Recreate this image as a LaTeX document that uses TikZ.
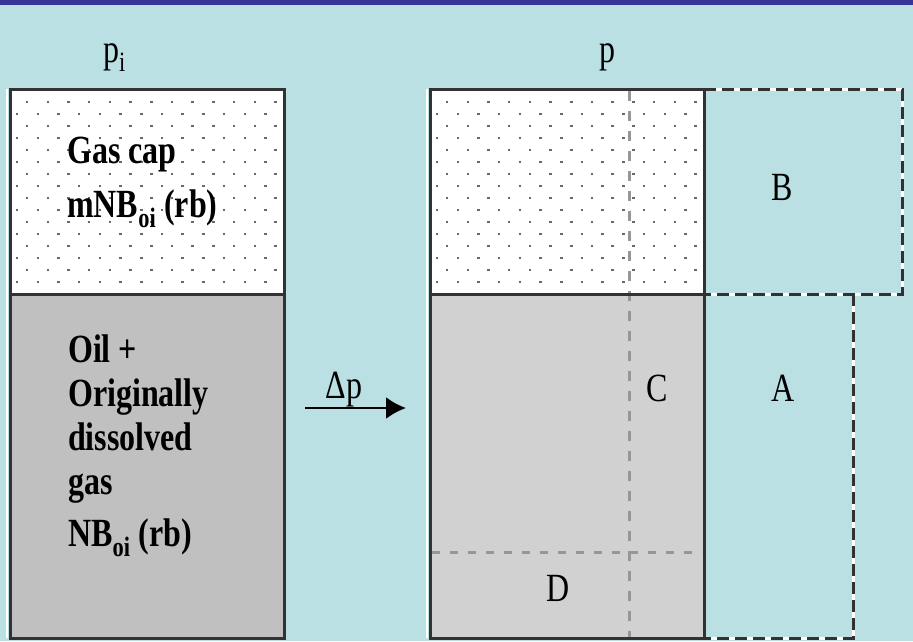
\documentclass[tikz,border=0pt]{standalone}
\usepackage{fontspec}
\setmainfont{Liberation Serif}
\newfontfamily\figfont[FakeStretch=0.8]{Liberation Serif}
\usetikzlibrary{arrows.meta,positioning}
\definecolor{bgblue}{RGB}{186,224,227}
\definecolor{barblue}{RGB}{54,54,152}
\definecolor{oilleft}{RGB}{192,192,192}
\definecolor{oilright}{RGB}{209,209,209}
\definecolor{edgegray}{RGB}{50,50,50}
\definecolor{dotgray}{RGB}{105,105,105}
\definecolor{guidegray}{RGB}{150,150,150}

\begin{document}
\begin{tikzpicture}[
  x=1pt, y=-1pt,
  zone/.style={draw=edgegray, line width=3pt, inner sep=0pt, outer sep=0pt, anchor=north west},
  lbl/.style={font=\figfont\fontsize{40}{45}\selectfont, inner sep=0pt},
  boxtext/.style={font=\figfont\bfseries\fontsize{40}{44}\selectfont, align=left, inner sep=0pt, anchor=base west},
  bound/.style={edgegray, line width=3pt, dash pattern=on 12pt off 6pt},
  guide/.style={guidegray, line width=3pt, dash pattern=on 10pt off 10pt},
  droparrow/.style={-{Latex[length=20pt,width=22pt]}, line width=2.5pt, black}
]
\useasboundingbox (0,0) rectangle (913,641);
\fill[bgblue] (0,0) rectangle (913,641);
\fill[barblue] (0,0) rectangle (913,5);

% initial state
\node[zone, fill=white, minimum width=274pt, minimum height=205pt] (capL) at (10,89) {};
\node[zone, fill=oilleft, minimum width=274pt, minimum height=344pt] (oilL) at (10,294) {};
% state after pressure drop
\node[zone, fill=white, minimum width=274pt, minimum height=205pt] (capR) at (430,89) {};
\node[zone, fill=oilright, minimum width=274pt, minimum height=344pt] (oilR) at (430,294) {};

% dotted gas caps
\foreach \bx in {10,430}{
  \begin{scope}
    \clip (\bx+2,91) rectangle (\bx+272,292);
    \foreach \r in {0,...,15}{
      \pgfmathsetmacro\yy{102+12*\r}
      \pgfmathsetmacro\xo{\bx+(mod(\r,2)==0 ? 17 : 7)}
      \foreach \c in {0,...,12}
        \fill[dotgray] ({\xo+20.7*\c-1.2},{\yy-1.2}) rectangle ++(2.5,2.5);
    }
  \end{scope}
}

% light edges
\draw[white, line width=1.5pt] (capL.north west) ++(-3,0) -- ([xshift=-3pt]oilL.south west);
\draw[white, line width=1.5pt] (capR.north west) ++(-3,0) -- ([xshift=-3pt]oilR.south west);

% expansion guides
\coordinate (gTop) at (629,91);
\coordinate (gBot) at (629,637);
\coordinate (hL) at (432,552);
\coordinate (hR) at (702,552);
\draw[guide] (gTop) -- (gBot);
\draw[guide, dash pattern=on 8pt off 10pt] (hL) -- (hR);

% redraw borders over guides
\draw[edgegray, line width=3pt] (capL.south west) -- (capL.south east);
\draw[edgegray, line width=3pt] (capR.south west) -- (capR.south east);

% B and A regions
\coordinate (bNE) at (902,89);
\coordinate (aTop) at (853,294);
\coordinate (aBot) at (853,638);
\draw[white, line width=3pt] (capR.north east) -- (bNE) |- (capR.south east);
\draw[bound] (capR.north east) -- (bNE) |- (capR.south east);
\draw[white, line width=3pt] (aTop) -- (aBot) -- (oilR.south east);
\draw[bound] (aTop) -- (aBot) -- (oilR.south east);

% texts
\node[lbl, anchor=base west] (pinit) at (103,62) {p\textsubscript{i}};
\node[lbl, anchor=base] (pnow) at (607,62) {p};
\node[boxtext] (captext) at (67,217) {Gas cap\\[10pt]mNB\textsubscript{oi} (rb)};
\node[boxtext] (oiltext) at (68,546) {Oil +\\Originally\\dissolved\\gas\\[8pt]NB\textsubscript{oi} (rb)};

% pressure drop
\coordinate (dpL) at (305,408);
\coordinate (dpR) at (406,408);
\draw[droparrow] (dpL) -- (dpR);
\node[lbl, anchor=base] (dp) at (344,398) {Δp};

\node[lbl] (regB) at (782,187) {B};
\node[lbl] (regC) at (657,388) {C};
\node[lbl] (regA) at (783,388) {A};
\node[lbl] (regD) at (558,588) {D};
\end{tikzpicture}
\end{document}
